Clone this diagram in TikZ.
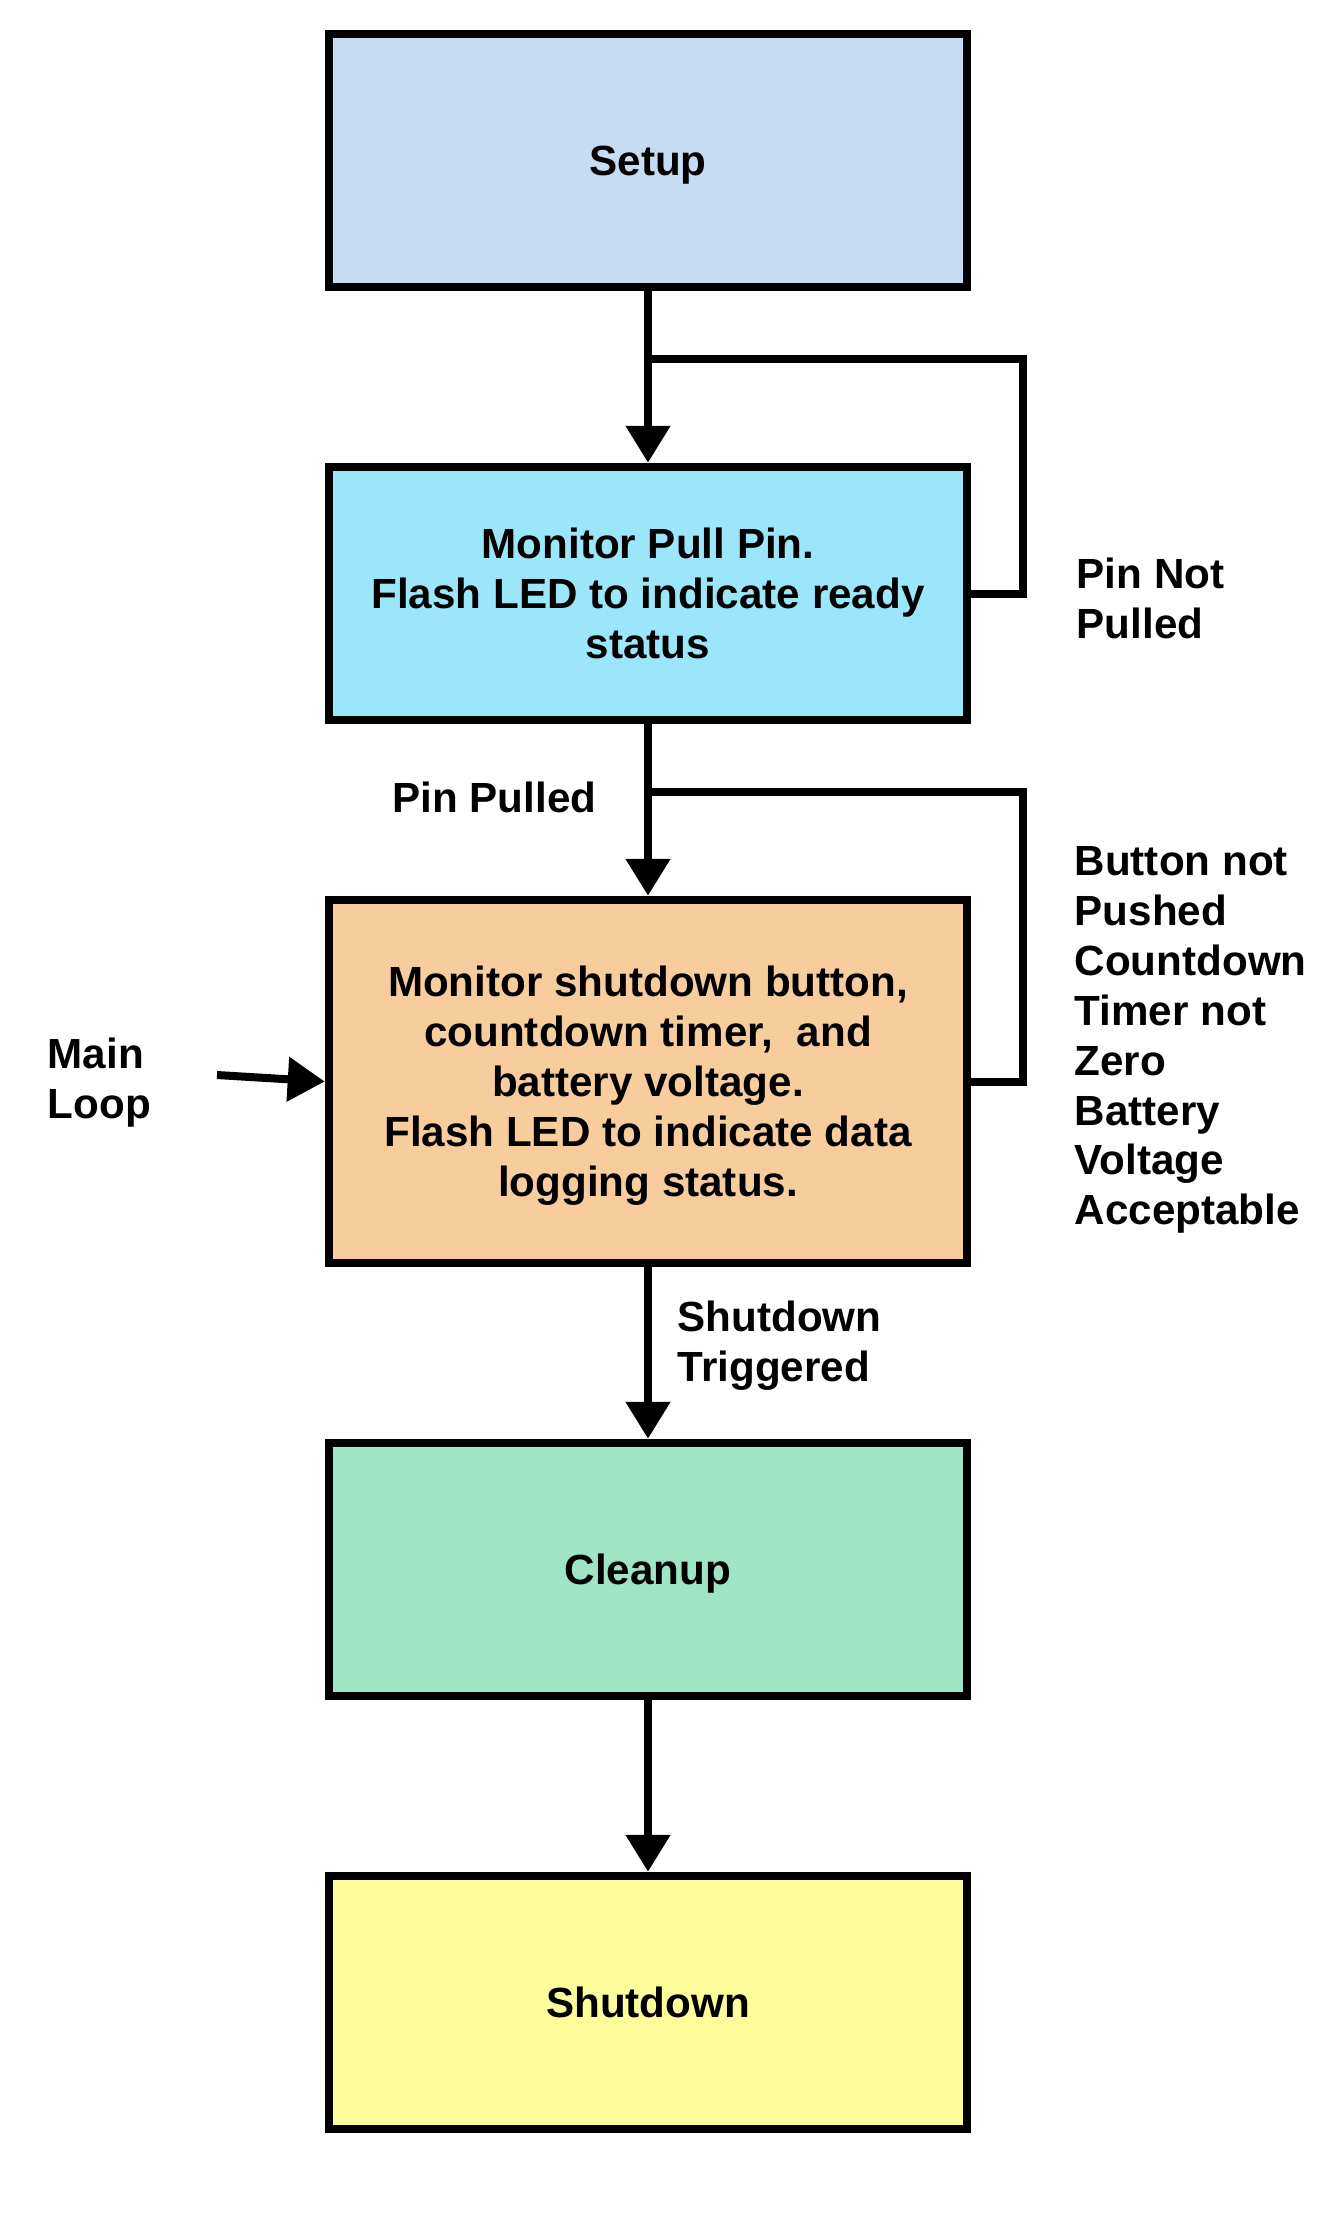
\documentclass[tikz,border=0pt]{standalone}
\usepackage{fontspec}
\setmainfont{Liberation Sans}
\usetikzlibrary{positioning,arrows.meta}
\definecolor{setupc}{HTML}{C6DCF2}
\definecolor{pinc}{HTML}{9CE6F9}
\definecolor{loopc}{HTML}{F7CD9E}
\definecolor{cleanc}{HTML}{9EE4C5}
\definecolor{shutc}{HTML}{FDFD9B}
\begin{document}
\begin{tikzpicture}[font=\fontsize{12}{14.2}\selectfont\bfseries, line join=miter, >={Triangle[length=3.7mm,width=4.3mm]},
	blk/.style={draw, line width=2.42pt, minimum width=6.38cm, minimum height=2.53cm, align=center, inner sep=0pt, text depth=0pt},
	con/.style={line width=2.28pt},
	lbl/.style={align=left, inner sep=0pt, anchor=west}]
		\useasboundingbox (0,0) rectangle (13.42,-22.28);
		\node[blk, fill=setupc] (setup) at (6.48,-1.605) {Setup};
		\node[blk, fill=pinc, below=1.715cm of setup] (pin) {Monitor Pull Pin.\\ Flash LED to indicate ready\\ status};
		\node[blk, fill=loopc, minimum height=3.63cm, below=1.715cm of pin] (mainloop) {Monitor shutdown button,\\ countdown timer,\ \ and\\ battery voltage.\\ Flash LED to indicate data\\ logging status.};
		\node[blk, fill=cleanc, below=1.715cm of mainloop] (cleanup) {Cleanup};
		\node[blk, fill=shutc, below=1.715cm of cleanup] (shutdown) {Shutdown};
		\path
		(setup.south) ++ (0,-0.68) coordinate (ja)
		(pin.south) ++ (0,-0.68) coordinate (jb)
		(2.17,-10.75) coordinate (mlin)
		;
		\draw[con,->] (setup) -- (pin);
		\draw[con,->] (pin) -- (mainloop);
		\draw[con,->] (mainloop) -- (cleanup);
		\draw[con,->] (cleanup) -- (shutdown);
		\draw[con,->] (mlin) -- (mainloop.west);
		\draw[con]
		(pin.east) -- ++(0.52,0) |- (ja)
		(mainloop.east) -- ++(0.52,0) |- (jb)
		;
		\node[lbl] (notpulled) at (10.76,-5.98) {Pin Not\\ Pulled};
		\node[lbl, anchor=east] (pulled) at (5.97,-7.97) {Pin Pulled};
		\node[lbl] (notpushed) at (10.74,-10.40) {Button not\\ Pushed\\ Countdown\\ Timer not\\ Zero\\ Battery\\ Voltage\\ Acceptable};
		\node[lbl] (mainlbl) at (0.47,-10.83) {Main\\ Loop};
		\node[lbl] (trig) at (6.77,-13.46) {Shutdown\\ Triggered};
	\end{tikzpicture}
\end{document}
